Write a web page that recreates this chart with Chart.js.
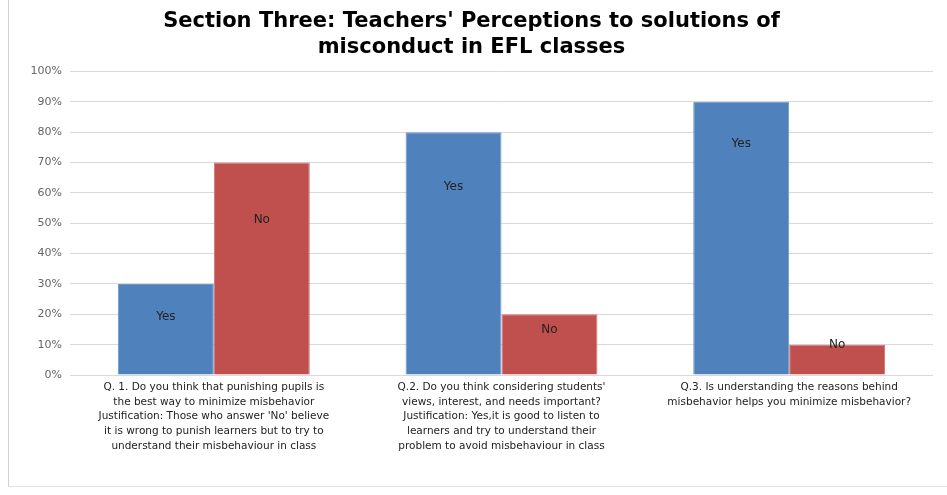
<!DOCTYPE html>
<html>
<head>
<meta charset="utf-8">
<script src="https://cdn.jsdelivr.net/npm/chart.js@4"></script>
<style>
  body { margin: 0; background: #fff; }
  #wrap { position: relative; width: 947px; height: 495px; }
  #frame { position: absolute; left: 8px; top: 0; width: 945px; height: 487px; border-left: 1px solid #d0d0d0; border-bottom: 1px solid #e4e4e4; box-sizing: border-box; }
  canvas { position: absolute; left: 0; top: 0; }
</style>
</head>
<body>
<div id="wrap">
  <div id="frame"></div>
  <canvas id="surveyChart" width="947" height="495"></canvas>
</div>
<script>
const questions = [
    ['Q. 1. Do you think that punishing pupils is', 'the best way to minimize misbehavior', 'Justification: Those who answer \'No\' believe', 'it is wrong to punish learners but to try to', 'understand their misbehaviour in class'],
    ['Q.2. Do you think considering students\'', 'views, interest, and needs important?', 'Justification: Yes,it is good to listen to', 'learners and try to understand their', 'problem to avoid misbehaviour in class'],
    ['Q.3. Is understanding the reasons behind', 'misbehavior helps you minimize misbehavior?']
];
const yesValues = [0.30, 0.80, 0.90];
const noValues = [0.70, 0.20, 0.10];
const yTicks = [0, 0.1, 0.2, 0.3, 0.4, 0.5, 0.6, 0.7, 0.8, 0.9, 1];

// where the Yes / No text sits inside each bar (axis units), as placed in the original
const labelLevels = [[0.19, 0.62, 0.76], [0.51, 0.15, 0.10]];

const barText = {
    id: 'barText',
    afterDatasetsDraw(chart) {
        const ctx = chart.ctx;
        const y = chart.scales.y;
        ctx.save();
        ctx.font = '12px "DejaVu Sans"';
        ctx.fillStyle = '#222';
        ctx.textAlign = 'center';
        ctx.textBaseline = 'middle';
        chart.data.datasets.forEach((ds, i) => {
            chart.getDatasetMeta(i).data.forEach((bar, j) => {
                ctx.fillText(ds.label, bar.x, y.getPixelForValue(labelLevels[i][j]));
            });
        });
        ctx.restore();
    }
};

new Chart(document.getElementById('surveyChart'), {
    type: 'bar',
    data: {
        labels: questions,
        datasets: [
            { label: 'Yes', data: yesValues, backgroundColor: '#4F81BD', borderColor: '#6f97c9', borderWidth: 1 },
            { label: 'No', data: noValues, backgroundColor: '#C0504D', borderColor: '#cc7371', borderWidth: 1 }
        ]
    },
    options: {
        responsive: false,
        animation: false,
        layout: { padding: { left: 10, right: 14, top: 6, bottom: 8 } },
        datasets: { bar: { categoryPercentage: 0.667, barPercentage: 1 } },
        plugins: {
            legend: { display: false },
            tooltip: { enabled: false },
            title: {
                display: true,
                text: ["Section Three: Teachers' Perceptions to solutions of", 'misconduct in EFL classes'],
                color: '#000',
                font: { family: '"DejaVu Sans"', size: 21, weight: 'bold', lineHeight: 1.25 },
                padding: { top: 2, bottom: 11 }
            }
        },
        scales: {
            x: {
                grid: { display: false },
                border: { display: false },
                ticks: {
                    color: '#222',
                    font: { family: '"DejaVu Sans"', size: 10.5, lineHeight: 1.4 },
                    maxRotation: 0,
                    autoSkip: false,
                    padding: -3
                },
                afterFit(scale) { scale.height = 112; }
            },
            y: {
                min: 0,
                max: 1,
                afterBuildTicks(scale) { scale.ticks = yTicks.map(v => ({ value: v })); },
                grid: { color: '#d9d9d9', drawTicks: false },
                border: { display: false },
                ticks: {
                    color: '#666',
                    font: { family: '"DejaVu Sans"', size: 11 },
                    padding: 8,
                    callback: v => Math.round(v * 100) + '%'
                },
                afterFit(scale) { scale.width = 60; }
            }
        }
    },
    plugins: [barText]
});
</script>
</body>
</html>
